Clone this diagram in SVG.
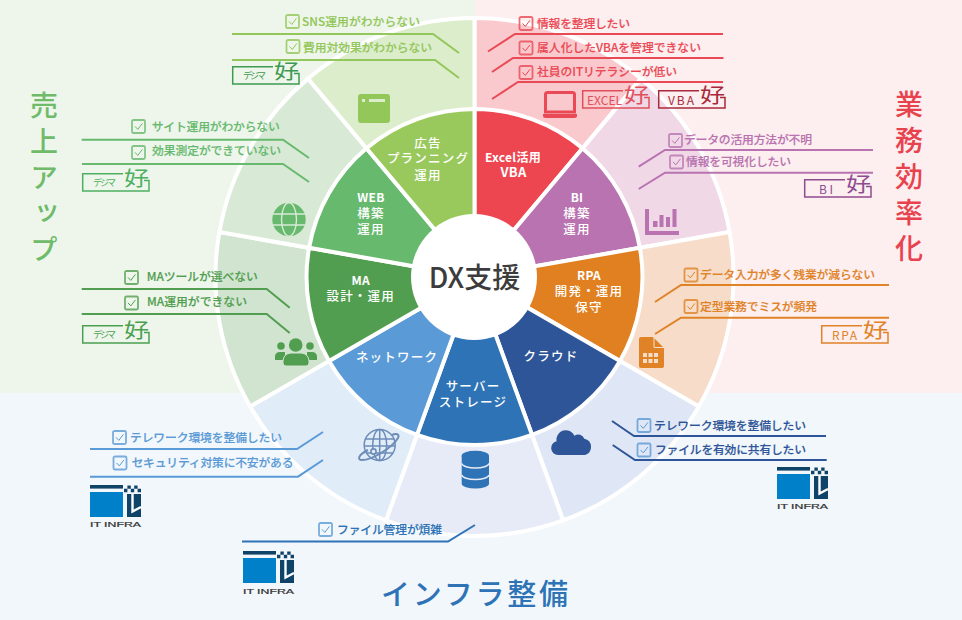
<svg xmlns="http://www.w3.org/2000/svg" width="962" height="620" viewBox="0 0 962 620">
<style>
text{font-family:"Noto Sans CJK JP","Noto Sans",sans-serif;dominant-baseline:central}
.lbl{font-size:11.8px;font-weight:500;fill:currentColor;stroke:currentColor;stroke-width:.15;transform:translateY(-1px)}
.seg{fill:#fff;font-size:12.5px;font-weight:500;text-anchor:middle;letter-spacing:1.2px;transform:translateY(-1px)}
.b{font-weight:700;font-size:12px;letter-spacing:.3px}
.ring{stroke:#fff;stroke-width:4}
.ln{fill:none;stroke:currentColor;stroke-width:2}
.frame{fill:none;stroke:currentColor;stroke-width:1.5}
.tag{fill:currentColor;font-size:9px}
.tagw{fill:currentColor;font-size:12px}
.koh{fill:currentColor;font-size:20px;transform:translateY(-2px)}
.big{font-size:28px;font-weight:500;writing-mode:vertical-rl;letter-spacing:8px}
.it{fill:#333;stroke:#333;stroke-width:.2;font-size:7px;font-family:"Liberation Sans",sans-serif}
.red{color:#ea4a55}.mag{color:#b873b0}.ora{color:#e08226}.nav{color:#2e5597}.blu{color:#2e73b5}.sky{color:#5a9ad6}.dgr{color:#529e50}.mgr{color:#67b96e}.lgr{color:#93c759}
.cb{color:#5a9ad6}
</style>
<defs>
<g id="chk"><rect x="1" y="1" width="13" height="13" rx="1.5" fill="none" stroke="currentColor" stroke-opacity=".8" stroke-width="1.8"/><path d="M4 7.4l2.8 3 4.6-6" fill="none" stroke="currentColor" stroke-width="1"/></g>
<path id="fr" d="M41 .7H.7V18H67V7.5H62"/>
<g id="itlogo">
<rect width="33" height="3.6" fill="#0f4468"/>
<rect y="7" width="33" height="25" fill="#0080c8"/>
<path d="M34 3.8h3.4v3.4H34zM37.4.4h3.4v3.4h-3.4zM40.8 3.8h3.4v3.4h-3.4zM44.2.4h3.4v3.4h-3.4zM47.6 3.8H51v3.4h-3.4z" fill="#0f4468"/>
<rect x="37" y="9" width="14" height="23" fill="#0f4468"/>
<path d="M42.5 9V26.5L51 22" fill="none" stroke="#fff" stroke-width="2.4"/>
</g>
</defs>
<g id="background">
<rect width="475" height="393" fill="#eef6ec"/>
<rect x="475" width="487" height="393" fill="#fdeeef"/>
<rect y="393" width="962" height="227" fill="#f2f7fc"/>
</g>
<g id="outer-ring" class="ring">
<path d="M474.5 277V18A259 259 0 0 1 641 78.6Z" fill="#fac9cd"/>
<path d="M474.5 277L641 78.6A259 259 0 0 1 729.6 232Z" fill="#f0d8e7"/>
<path d="M474.5 277L729.6 232A259 259 0 0 1 698.8 406.5Z" fill="#f6dcc9"/>
<path d="M474.5 277L698.8 406.5A259 259 0 0 1 563.1 520.4Z" fill="#dfe7f6"/>
<path d="M474.5 277L563.1 520.4A259 259 0 0 1 385.9 520.4Z" fill="#e6ebf7"/>
<path d="M474.5 277L385.9 520.4A259 259 0 0 1 250.2 406.5Z" fill="#e0ecf8"/>
<path d="M474.5 277L250.2 406.5A259 259 0 0 1 219.4 232Z" fill="#d0e4cf"/>
<path d="M474.5 277L219.4 232A259 259 0 0 1 308 78.6Z" fill="#d8ead6"/>
<path d="M474.5 277L308 78.6A259 259 0 0 1 474.5 18Z" fill="#dcedcc"/>
</g>
<g id="connectors">
<g class="lgr"><path class="ln" d="M232 34H433L459 53"/><path class="ln" d="M232 60H435L459 78"/></g>
<g class="red"><path class="ln" d="M488 51.5L515 34H723"/><path class="ln" d="M492 72L513 58H723.5"/><path class="ln" d="M492 99L518 82H723"/></g>
<g class="mag"><path class="ln" d="M638.7 166.7L665 150H873"/><path class="ln" d="M638.7 189L665 172.7H873"/></g>
<g class="ora"><path class="ln" d="M655 302L681 285H889"/><path class="ln" d="M655 334L681 317.7H889"/></g>
<g class="nav"><path class="ln" d="M612 421L634 436H826"/><path class="ln" d="M612.7 445L635 460H826.7"/></g>
<g class="blu"><path class="ln" d="M242 541.5H448L475 525"/></g>
<g class="sky"><path class="ln" d="M90 449H297L323 432"/><path class="ln" d="M90 476.7H298L323 460"/></g>
<g class="dgr"><path class="ln" d="M81.7 289H266.7L289.7 307.7"/><path class="ln" d="M81.7 314H266.7L289.7 333"/></g>
<g class="mgr"><path class="ln" d="M81.7 139.7H283L309 158"/><path class="ln" d="M82 164H283L309 182"/></g>
</g>
<g id="node-excel" class="red">
<path class="ring" d="M474.5 277V109A168 168 0 0 1 582.5 148.3Z" fill="#ee4650"/>
<text class="seg b"><tspan x="513" y="157">Excel活用</tspan><tspan x="513.5" y="172" font-size="13">VBA</tspan></text>
<path d="M547.5 92.5H572.5a2 2 0 0 1 2 2V112H545.5V94.5a2 2 0 0 1 2-2Z" fill="none" stroke="currentColor" stroke-width="3"/>
<path d="M543 114H577V115.5a2.5 2.5 0 0 1-2.5 2.5H545.5a2.5 2.5 0 0 1-2.5-2.5Z" fill="currentColor"/>
<use href="#chk" x="518.5" y="16"/><text class="lbl" x="537" y="23" textLength="93">情報を整理したい</text>
<use href="#chk" x="518.5" y="40.5"/><text class="lbl" x="537" y="47" textLength="164">属人化したVBAを管理できない</text>
<use href="#chk" x="518.5" y="65"/><text class="lbl" x="537" y="71" textLength="140">社員のITリテラシーが低い</text>
<g transform="translate(582 90)" color="#e0505a"><use href="#fr" class="frame"/><text class="tagw" x="5" y="9" textLength="35">EXCEL</text><text class="koh" x="42" y="6" textLength="25" lengthAdjust="spacingAndGlyphs">好</text></g>
<g transform="translate(658 90)" color="#a82a3c"><use href="#fr" class="frame"/><text class="tagw" x="10" y="9" textLength="26">VBA</text><text class="koh" x="42" y="6" textLength="25" lengthAdjust="spacingAndGlyphs">好</text></g>
</g>
<g id="node-bi" class="mag">
<path class="ring" d="M474.5 277L582.5 148.3A168 168 0 0 1 639.9 247.8Z" fill="#b873b0"/>
<text class="seg"><tspan class="b" x="577" y="197">BI</tspan><tspan x="577" y="213">構築</tspan><tspan x="577" y="229">運用</tspan></text>
<path d="M647 209V233H679" fill="none" stroke="currentColor" stroke-width="4"/>
<path d="M653 221h4.5v6H653zM659.5 215h4v12h-4zM666 217h4v10h-4zM672.5 209h4v18h-4z" fill="currentColor"/>
<use href="#chk" x="668" y="133"/><text class="lbl" x="684" y="139" textLength="128">データの活用方法が不明</text>
<use href="#chk" x="669" y="154.5"/><text class="lbl" x="686" y="161.5" textLength="105">情報を可視化したい</text>
<g transform="translate(804 179)" color="#8e4c90"><use href="#fr" class="frame"/><text class="tagw" x="15" y="9" textLength="14">BI</text><text class="koh" x="42" y="6" textLength="25" lengthAdjust="spacingAndGlyphs">好</text></g>
</g>
<g id="node-rpa" class="ora">
<path class="ring" d="M474.5 277L639.9 247.8A168 168 0 0 1 620 361Z" fill="#e08020"/>
<text class="seg"><tspan class="b" x="589" y="275">RPA</tspan><tspan x="589" y="290.5">開発・運用</tspan><tspan x="589" y="307">保守</tspan></text>
<path d="M641 337H653L664 348V366a2 2 0 0 1-2 2H641a2 2 0 0 1-2-2V339a2 2 0 0 1 2-2Z" fill="currentColor"/>
<path d="M654 336V347.5H665" fill="none" stroke="#f6dcc9" stroke-width="1"/>
<path d="M643 353h4v4h-4zM648.5 353h4v4h-4zM654 353h4v4h-4zM643 359h4v4h-4zM648.5 359h4v4h-4zM654 359h4v4h-4z" fill="#f6dcc9"/>
<use href="#chk" x="683.5" y="267.5"/><text class="lbl" x="700" y="274" textLength="175">データ入力が多く残業が減らない</text>
<use href="#chk" x="683.5" y="299"/><text class="lbl" x="700" y="306.5" textLength="117">定型業務でミスが頻発</text>
<g transform="translate(821 325)"><use href="#fr" class="frame"/><text class="tagw" x="11" y="9" textLength="25">RPA</text><text class="koh" x="42" y="6" textLength="25" lengthAdjust="spacingAndGlyphs">好</text></g>
</g>
<g id="node-cloud" class="nav">
<path class="ring" d="M474.5 277L620 361A168 168 0 0 1 532 434.9Z" fill="#2e5597"/>
<text class="seg" x="551" y="356">クラウド</text>
<path d="M558 455a7 7 0 0 1-1.5-13.8a9.5 9.5 0 0 1 18-5.5a6.5 6.5 0 0 1 9.8 3a8.4 8.4 0 0 1 .7 16.3Z" fill="currentColor"/>
<use href="#chk" class="cb" x="636.5" y="418"/><text class="lbl" x="654" y="425" textLength="152">テレワーク環境を整備したい</text>
<use href="#chk" class="cb" x="636.5" y="442.5"/><text class="lbl" x="655" y="449" textLength="151">ファイルを有効に共有したい</text>
<use href="#itlogo" x="777" y="467"/><text class="it" x="777" y="506.5" textLength="51" lengthAdjust="spacingAndGlyphs">IT INFRA</text>
</g>
<g id="node-server" class="blu">
<path class="ring" d="M474.5 277L532 434.9A168 168 0 0 1 417 434.9Z" fill="#2e73b5"/>
<text class="seg"><tspan x="473" y="386">サーバー</tspan><tspan x="473" y="402">ストレージ</tspan></text>
<path d="M461.7 456V484A13.7 5 0 0 0 489 484V456Z" fill="currentColor"/>
<ellipse cx="475.3" cy="455.7" rx="13.7" ry="5" fill="currentColor"/>
<path d="M461.7 463.5A13.7 5 0 0 0 489 463.5M461.7 475A13.7 5 0 0 0 489 475" fill="none" stroke="#e6ebf7" stroke-width="1.4"/>
<use href="#chk" class="cb" x="318" y="522"/><text class="lbl" x="337" y="529" textLength="105">ファイル管理が煩雑</text>
<use href="#itlogo" x="243" y="551"/><text class="it" x="243" y="591" textLength="51" lengthAdjust="spacingAndGlyphs">IT INFRA</text>
</g>
<g id="node-network" class="sky">
<path class="ring" d="M474.5 277L417 434.9A168 168 0 0 1 329 361Z" fill="#5a9ad6"/>
<text class="seg" x="397" y="357">ネットワーク</text>
<g fill="none" stroke="#6d8cb8" stroke-width="1.5">
<circle cx="379.7" cy="445" r="15.5"/><ellipse cx="379.7" cy="445" rx="7" ry="15.5"/><path d="M379.7 429.5V460.5M365 439H394.5M364.5 446H395M366 453H393"/>
<path d="M368 450C358 455 357 460 362 460C372 460 392 448 398 438C400 434 396 433 392 435" stroke-width="2"/>
<circle cx="373.5" cy="451.5" r="2.6" fill="#e0ecf8" stroke-width="1.6"/>
</g>
<use href="#chk" x="112" y="430"/><text class="lbl" x="130" y="437" textLength="152">テレワーク環境を整備したい</text>
<use href="#chk" x="112.5" y="455.5"/><text class="lbl" x="131.5" y="462.5" textLength="162">セキュリティ対策に不安がある</text>
<use href="#itlogo" x="90" y="485"/><text class="it" x="90" y="524.5" textLength="51" lengthAdjust="spacingAndGlyphs">IT INFRA</text>
</g>
<g id="node-ma" class="dgr">
<path class="ring" d="M474.5 277L329 361A168 168 0 0 1 309.1 247.8Z" fill="#529e50"/>
<text class="seg"><tspan class="b" x="360.7" y="280">MA</tspan><tspan x="360.7" y="296">設計・運用</tspan></text>
<g fill="currentColor">
<circle cx="281" cy="346" r="3.8"/><circle cx="310" cy="346" r="3.8"/>
<path d="M275 360V356a5 5 0 0 1 5-4H285V360ZM317 360V356a5 5 0 0 0-5-4H307V360Z"/>
<circle cx="295.7" cy="345" r="6.8"/>
<path d="M283 361a8 8 0 0 1 8-8H301a8 8 0 0 1 8 8V363a3 3 0 0 1-3 3H286a3 3 0 0 1-3-3Z" stroke="#d0e4cf"/>
</g>
<use href="#chk" x="124" y="270"/><text class="lbl" x="146.7" y="276.7" textLength="111">MAツールが選べない</text>
<use href="#chk" x="124" y="295.5"/><text class="lbl" x="147" y="301.7" textLength="100">MA運用ができない</text>
<g transform="translate(82 325)" color="#4aa050"><use href="#fr" class="frame"/><text class="tag" x="11" y="9" textLength="23">デジマ</text><text class="koh" x="42" y="6" textLength="25" lengthAdjust="spacingAndGlyphs">好</text></g>
</g>
<g id="node-web" class="mgr">
<path class="ring" d="M474.5 277L309.1 247.8A168 168 0 0 1 366.5 148.3Z" fill="#67b96e"/>
<text class="seg"><tspan class="b" x="371" y="197">WEB</tspan><tspan x="371" y="213">構築</tspan><tspan x="371" y="229">運用</tspan></text>
<circle cx="289" cy="219.5" r="16.7" fill="currentColor"/>
<g fill="none" stroke="#d8ead6" stroke-width="1.4"><ellipse cx="289" cy="219.5" rx="7.5" ry="16.7"/><path d="M272.5 214H305.5M272.5 225H305.5"/></g>
<use href="#chk" x="131" y="119"/><text class="lbl" x="151.7" y="126.7" textLength="128">サイト運用がわからない</text>
<use href="#chk" x="131" y="145"/><text class="lbl" x="152" y="150.7" textLength="129">効果測定ができていない</text>
<g transform="translate(82 173)" color="#4db060"><use href="#fr" class="frame"/><text class="tag" x="11" y="9" textLength="23">デジマ</text><text class="koh" x="42" y="6" textLength="25" lengthAdjust="spacingAndGlyphs">好</text></g>
</g>
<g id="node-ad" class="lgr">
<path class="ring" d="M474.5 277L366.5 148.3A168 168 0 0 1 474.5 109Z" fill="#99c95c"/>
<text class="seg"><tspan x="428" y="142.7">広告</tspan><tspan x="428" y="158">プランニング</tspan><tspan x="428" y="175">運用</tspan></text>
<rect x="358" y="94" width="32" height="29" rx="3" fill="currentColor"/>
<path d="M362 99h3v3h-3zM369 99h16v3h-16z" fill="#dcedcc"/>
<use href="#chk" x="285" y="14"/><text class="lbl" x="302" y="21" textLength="118">SNS運用がわからない</text>
<use href="#chk" x="285.5" y="39"/><text class="lbl" x="303" y="47" textLength="129">費用対効果がわからない</text>
<g transform="translate(232 66)" color="#3d9a50"><use href="#fr" class="frame"/><text class="tag" x="11" y="9" textLength="23">デジマ</text><text class="koh" x="42" y="6" textLength="25" lengthAdjust="spacingAndGlyphs">好</text></g>
</g>
<g id="node-center">
<circle cx="474" cy="277" r="63" fill="#fff"/>
<text x="474.5" y="276" text-anchor="middle" font-size="28" font-weight="500" fill="#3c3c3c">DX支援</text>
</g>
<g id="titles">
<text class="big" x="44" y="91" fill="#6fbb6a">売上アップ</text>
<text class="big" x="909" y="90" fill="#e8424e">業務効率化</text>
<text x="381" y="592" font-size="29" font-weight="500" fill="#2e73b5" textLength="187">インフラ整備</text>
</g>
</svg>
